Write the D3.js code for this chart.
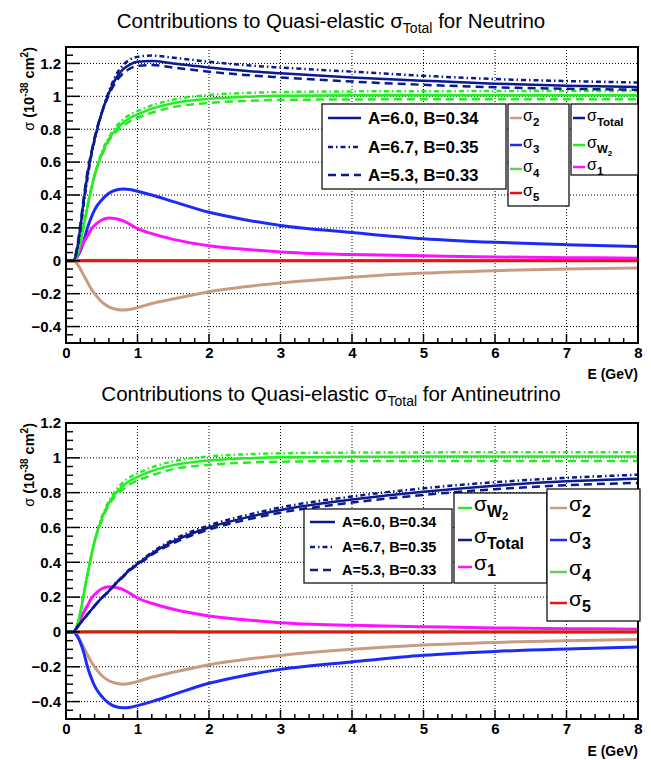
<!DOCTYPE html>
<html><head><meta charset="utf-8">
<script src="https://cdn.jsdelivr.net/npm/d3@7"></script>
<style>
body{margin:0;background:#fff;}
text{font-family:"Liberation Sans",Arial,Helvetica,sans-serif;}
</style></head>
<body><svg id="c" width="651" height="760"></svg>
<script>
// ---- data (E in GeV, sigma in 1e-38 cm^2) ----
const energies = [0, 0.1, 0.15, 0.2, 0.25, 0.3, 0.35, 0.4, 0.5, 0.6, 0.7, 0.8, 0.9, 1.0, 1.2, 1.5, 2, 2.5, 3, 4, 5, 6, 7, 8];

const nuTotalA60 = [0,0,0.06,0.2,0.37,0.52,0.64,0.74,0.9,1.02,1.11,1.165,1.195,1.21,1.215,1.2,1.175,1.155,1.14,1.115,1.095,1.077,1.065,1.057];
const nuTotalA67 = [0,0,0.05,0.18,0.35,0.5,0.63,0.73,0.9,1.03,1.13,1.19,1.225,1.24,1.248,1.235,1.21,1.19,1.175,1.15,1.125,1.105,1.093,1.084];
const nuTotalA53 = [0,0,0.07,0.22,0.39,0.54,0.65,0.75,0.9,1.01,1.09,1.14,1.17,1.185,1.19,1.175,1.15,1.13,1.115,1.09,1.07,1.055,1.046,1.04];

const w2A60 = [0,0,0.03,0.11,0.22,0.33,0.43,0.52,0.65,0.74,0.8,0.84,0.87,0.89,0.925,0.958,0.985,0.997,1.003,1.006,1.007,1.007,1.007,1.007];
const w2A67 = [0,0,0.03,0.11,0.22,0.33,0.43,0.52,0.66,0.75,0.815,0.86,0.89,0.91,0.945,0.98,1.008,1.02,1.026,1.03,1.031,1.032,1.032,1.032];
const w2A53 = [0,0,0.03,0.11,0.22,0.33,0.43,0.52,0.64,0.73,0.785,0.82,0.85,0.87,0.9,0.935,0.96,0.972,0.978,0.981,0.982,0.982,0.982,0.982];

const sigma1 = [0,0,0.02,0.07,0.115,0.15,0.19,0.215,0.248,0.26,0.255,0.243,0.22,0.195,0.165,0.13,0.092,0.07,0.053,0.038,0.03,0.023,0.019,0.016];
const sigma2 = [0,0,-0.015,-0.05,-0.09,-0.13,-0.17,-0.2,-0.25,-0.28,-0.295,-0.3,-0.295,-0.285,-0.26,-0.232,-0.188,-0.158,-0.135,-0.1,-0.075,-0.06,-0.05,-0.044];
const sigma3Nu = [0,0,0.02,0.06,0.12,0.2,0.26,0.31,0.37,0.41,0.43,0.436,0.433,0.423,0.4,0.36,0.295,0.25,0.215,0.172,0.134,0.112,0.098,0.087];
const sigma3Nubar = [0,0,-0.02,-0.06,-0.12,-0.2,-0.26,-0.31,-0.37,-0.41,-0.43,-0.436,-0.433,-0.423,-0.4,-0.36,-0.295,-0.25,-0.215,-0.172,-0.134,-0.112,-0.098,-0.087];
const sigma4 = [0,0,0,0.001,0.002,0.003,0.003,0.003,0.003,0.003,0.003,0.003,0.002,0.002,0.002,0.002,0.001,0.001,0.001,0.001,0.001,0.001,0.001,0.001];
const sigma5 = [0,0,0,0,0,0,0,0,0,0,0,0,0,0,0,0,0,0,0,0,0,0,0,0];

const nubarTotalA60 = [0,0,0.025,0.05,0.075,0.1,0.125,0.15,0.195,0.235,0.28,0.32,0.36,0.39,0.45,0.52,0.6,0.655,0.7,0.76,0.805,0.84,0.865,0.88];
const nubarTotalA67 = [0,0,0.025,0.05,0.075,0.1,0.125,0.15,0.195,0.236,0.282,0.323,0.364,0.395,0.457,0.53,0.612,0.668,0.715,0.778,0.825,0.86,0.885,0.903];
const nubarTotalA53 = [0,0,0.025,0.05,0.075,0.1,0.125,0.15,0.194,0.234,0.278,0.317,0.356,0.385,0.443,0.51,0.588,0.642,0.685,0.743,0.787,0.82,0.843,0.856];

const xTicks = [0,1,2,3,4,5,6,7,8];
const yTicks = [-0.4,-0.2,0,0.2,0.4,0.6,0.8,1,1.2];
const paramLabels = ["A=6.0, B=0.34","A=6.7, B=0.35","A=5.3, B=0.33"];

// ---- styles ----
const C = {total:"#0b1a8e", w2:"#22ee22", s1:"#ff11ff", s2:"#c99c82", s3:"#1c2cf8", s4:"#66cc66", s5:"#ee1111"};
const DASH = {solid:null, dashdot:"5,3,1.5,3", dashed:"8,5"};

const svg = d3.select("#c");
const FONT = '"Liberation Sans",Arial,Helvetica,sans-serif';

function title(y, tail){
  const t = svg.append("text").attr("x",331).attr("y",y).attr("text-anchor","middle")
    .attr("font-size",20.5).attr("fill","#000");
  t.append("tspan").text("Contributions to Quasi-elastic σ");
  t.append("tspan").attr("dy",5).attr("font-size",14).text("Total");
  t.append("tspan").attr("dy",-5).text(" for "+tail);
}

function panel(cfg){
  const x = d3.scaleLinear().domain([0,8]).range([66,638]);
  const y = d3.scaleLinear().domain(cfg.ydom).range([cfg.bottom,cfg.top]);
  const g = svg.append("g");
  const clipId = "clip"+cfg.id;
  g.append("clipPath").attr("id",clipId).append("rect")
    .attr("x",66).attr("y",cfg.top).attr("width",572).attr("height",cfg.bottom-cfg.top);

  // grid
  g.selectAll(".gx").data(xTicks.filter(d=>d>0&&d<8)).enter().append("line")
    .attr("x1",d=>x(d)).attr("x2",d=>x(d)).attr("y1",cfg.top).attr("y2",cfg.bottom)
    .attr("stroke","#000").attr("stroke-width",1).attr("stroke-dasharray","1,2");
  g.selectAll(".gy").data(yTicks).enter().append("line")
    .attr("x1",66).attr("x2",638).attr("y1",d=>y(d)).attr("y2",d=>y(d))
    .attr("stroke","#000").attr("stroke-width",1).attr("stroke-dasharray","1,2");

  // curves
  const line = d3.line().x((d,i)=>x(energies[i])).y(d=>y(d)).curve(d3.curveMonotoneX);
  const cg = g.append("g").attr("clip-path","url(#"+clipId+")");
  cfg.curves.forEach(c=>{
    cg.append("path").attr("d",line(c.v)).attr("fill","none").attr("stroke",c.color)
      .attr("stroke-width",c.w).attr("stroke-dasharray",c.dash).attr("stroke-linejoin","round");
  });

  // axes (ROOT-like inward ticks)
  const minorY = d3.range(cfg.ydom[0], cfg.ydom[1]+1e-9, 0.05).map(v=>+v.toFixed(3));
  const minorX = d3.range(0, 8.0001, 0.2).map(v=>+v.toFixed(2));
  g.selectAll(".my").data(minorY).enter().append("line")
    .attr("x1",66).attr("x2",d=>yTicks.some(t=>Math.abs(t-d)<1e-6)?80:73)
    .attr("y1",d=>y(d)).attr("y2",d=>y(d)).attr("stroke","#000").attr("stroke-width",1.5);
  g.selectAll(".mx").data(minorX).enter().append("line")
    .attr("y1",cfg.bottom).attr("y2",d=>Math.abs(d-Math.round(d))<1e-6?cfg.bottom-9:cfg.bottom-5)
    .attr("x1",d=>x(d)).attr("x2",d=>x(d)).attr("stroke","#000").attr("stroke-width",1.5);

  g.append("rect").attr("x",66).attr("y",cfg.top).attr("width",572).attr("height",cfg.bottom-cfg.top)
    .attr("fill","none").attr("stroke","#000").attr("stroke-width",2);

  const yAxis = d3.axisLeft(y).tickValues(yTicks).tickSize(0).tickPadding(5)
    .tickFormat(d=>d3.format("")(+d.toFixed(1)));
  const ya = g.append("g").attr("transform","translate(66,0)").call(yAxis);
  ya.select(".domain").remove();
  ya.selectAll("text").attr("font-size",15).attr("font-weight","bold").attr("font-family",FONT).attr("fill","#000");

  const xAxis = d3.axisBottom(x).tickValues(xTicks).tickSize(0).tickPadding(4).tickFormat(d3.format("d"));
  const xa = g.append("g").attr("transform","translate(0,"+cfg.bottom+")").call(xAxis);
  xa.select(".domain").remove();
  xa.selectAll("text").attr("font-size",15).attr("font-weight","bold").attr("font-family",FONT).attr("fill","#000");

  // axis titles
  const yt = g.append("text").attr("transform","translate(34,"+cfg.top+") rotate(-90)")
    .attr("text-anchor","end").attr("font-size",14.5).attr("font-weight","bold").attr("fill","#000");
  yt.append("tspan").attr("font-weight","normal").text("σ");
  yt.append("tspan").text(" (10");
  yt.append("tspan").attr("dy",-6).attr("font-size",10).text("-38");
  yt.append("tspan").attr("dy",6).text(" cm");
  yt.append("tspan").attr("dy",-6).attr("font-size",10).text("2");
  yt.append("tspan").attr("dy",6).text(")");
  g.append("text").attr("x",638).attr("y",cfg.xtitleY).attr("text-anchor","end")
    .attr("font-size",14).attr("font-weight","bold").attr("fill","#000").text("E (GeV)");

  // legends
  cfg.legends.forEach(L=>{
    const lg = g.append("g");
    lg.append("rect").attr("x",L.x0).attr("y",L.y0).attr("width",L.x1-L.x0).attr("height",L.y1-L.y0)
      .attr("fill","#fff").attr("stroke","#000").attr("stroke-width",1.2);
    L.items.forEach((it,i)=>{
      const yy = L.ys[i];
      lg.append("line").attr("x1",L.sx0).attr("x2",L.sx1).attr("y1",yy).attr("y2",yy)
        .attr("stroke",it.color).attr("stroke-width",it.w||2.5).attr("stroke-dasharray",it.dash);
      const t = lg.append("text").attr("x",L.tx).attr("y",yy+L.base).attr("fill","#000");
      if(it.label){
        t.attr("font-size",L.fs).attr("font-weight","bold").text(it.label);
      } else {
        t.append("tspan").attr("font-size",L.fs).text("σ");
        t.append("tspan").attr("dy",L.sub).attr("font-size",L.sfs).attr("font-weight","bold").text(it.sub);
        if(it.sub2) t.append("tspan").attr("dy",3).attr("font-size",L.sfs*0.7).attr("font-weight","bold").text(it.sub2);
      }
    });
  });
}

title(28,"Neutrino");
title(401,"Antineutrino");

function stdCurves(totals, s3){
  return [
    {v:sigma2,color:C.s2,w:3,dash:null},
    {v:s3,color:C.s3,w:3,dash:null},
    {v:sigma1,color:C.s1,w:3,dash:null},
    {v:sigma4,color:C.s4,w:3,dash:null},
    {v:sigma5,color:C.s5,w:3,dash:null},
    {v:w2A67,color:C.w2,w:2.5,dash:DASH.dashdot},
    {v:w2A53,color:C.w2,w:2.5,dash:DASH.dashed},
    {v:w2A60,color:C.w2,w:2.5,dash:null},
    {v:totals[1],color:C.total,w:2.5,dash:DASH.dashdot},
    {v:totals[2],color:C.total,w:2.5,dash:DASH.dashed},
    {v:totals[0],color:C.total,w:2.5,dash:null}
  ];
}
const paramItems = [
  {label:paramLabels[0],color:C.total,dash:DASH.solid},
  {label:paramLabels[1],color:C.total,dash:DASH.dashdot},
  {label:paramLabels[2],color:C.total,dash:DASH.dashed}
];

panel({id:1, top:47, bottom:343, ydom:[-0.5,1.3], xtitleY:379,
  curves: stdCurves([nuTotalA60,nuTotalA67,nuTotalA53], sigma3Nu),
  legends:[
    {x0:322,y0:104,x1:506,y1:189, ys:[118,147,175], sx0:328,sx1:361, tx:368, base:6, fs:17, items:paramItems},
    {x0:508,y0:104,x1:569,y1:206, ys:[118,145,169,193], sx0:510,sx1:522, tx:523, base:3, fs:16, sfs:11.5, sub:5,
      items:[{sub:"2",color:C.s2},{sub:"3",color:C.s3},{sub:"4",color:C.s4},{sub:"5",color:C.s5}]},
    {x0:571,y0:104,x1:638,y1:175, ys:[118,145,167], sx0:573,sx1:585, tx:587, base:3, fs:16, sfs:11.5, sub:5,
      items:[{sub:"Total",color:C.total},{sub:"W",sub2:"2",color:C.w2},{sub:"1",color:C.s1}]}
  ]});

panel({id:2, top:423, bottom:719, ydom:[-0.5,1.2], xtitleY:756,
  curves: stdCurves([nubarTotalA60,nubarTotalA67,nubarTotalA53], sigma3Nubar),
  legends:[
    {x0:304,y0:509,x1:452,y1:583, ys:[522,547,570], sx0:310,sx1:335, tx:342, base:5, fs:14.5, items:paramItems},
    {x0:454,y0:493,x1:547,y1:583, ys:[508,540,567], sx0:458,sx1:472, tx:474, base:3, fs:21, sfs:16, sub:6,
      items:[{sub:"W",sub2:"2",color:C.w2},{sub:"Total",color:C.total},{sub:"1",color:C.s1}]},
    {x0:547,y0:489,x1:640,y1:621, ys:[508,540,572,603], sx0:550,sx1:567, tx:569, base:3, fs:21, sfs:16, sub:6,
      items:[{sub:"2",color:C.s2},{sub:"3",color:C.s3},{sub:"4",color:C.s4},{sub:"5",color:C.s5}]}
  ]});
</script></body></html>
